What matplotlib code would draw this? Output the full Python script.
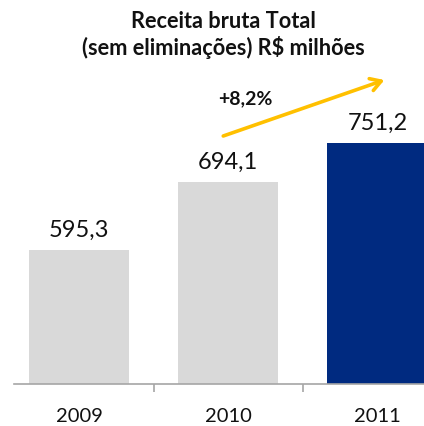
import matplotlib
matplotlib.use("Agg")
import matplotlib.pyplot as plt

years = ["2009", "2010", "2011"]
values = [595.3, 694.1, 751.2]
value_labels = ["595,3", "694,1", "751,2"]
growth_label = "+8,2%"
title = "Receita bruta Total\n(sem eliminações) R$ milhões"

colors = ["#D9D9D9", "#D9D9D9", "#002A80"]

W, H = 424, 426
fig = plt.figure(figsize=(W / 100, H / 100), dpi=100)
plt.rcParams['font.family'] = ['Lato', 'DejaVu Sans']

x0, x1 = 4.5, 452
ybot, ytop = 384, 60
ax = fig.add_axes([x0 / W, (H - ybot) / H, (x1 - x0) / W, (ybot - ytop) / H])
px_per_unit = 0.686
ymin = 400
ymax = ymin + (ybot - ytop) / px_per_unit
ax.set_ylim(ymin, ymax)
ax.set_xlim(-0.5, len(years) - 0.5)

xs = list(range(len(years)))
ax.bar(xs, values, width=100 / 149, color=colors, zorder=2)

for sp in ["top", "left", "right"]:
    ax.spines[sp].set_visible(False)
ax.spines["bottom"].set_color("#A6A6A6")
ax.spines["bottom"].set_linewidth(1.2)
ax.spines["bottom"].set_bounds(-0.5 + (14 - x0) / 149, 2.5)
ax.set_yticks([])
ax.set_xticks([])
ax.set_xticks([0.5, 1.5], minor=True)
ax.tick_params(axis="x", which="minor", length=6, width=1.2, color="#A6A6A6")
ax.tick_params(axis="x", which="major", length=0)

for x, v, lab in zip(xs, values, value_labels):
    ax.annotate(lab, xy=(x, v), xytext=(0, 14.4), textcoords="offset points",
                ha="center", va="center", fontsize=17, color="#111111")

for x, yr in zip(xs, years):
    ax.annotate(yr, xy=(x, ymin), xytext=(0, -23.5), textcoords="offset points",
                ha="center", va="center", fontsize=14.5, color="#111111",
                annotation_clip=False)

def dx(px):
    return (px - x0) / 149 - 0.5

def dy(py):
    return ymin + (ybot - py) / px_per_unit

ax.annotate("", xy=(dx(384), dy(80)), xytext=(dx(223), dy(136)),
            arrowprops=dict(arrowstyle="->,head_length=0.75,head_width=0.45",
                            color="#FFC000", lw=2.6, shrinkA=0, shrinkB=0),
            annotation_clip=False)
ax.text(dx(245), dy(99), growth_label, ha="center", va="center",
        fontsize=14, fontweight="bold", color="#111111")

fig.text(223 / W, 1 - 35 / H, title, ha="center", va="center",
         fontsize=15.7, fontweight="bold", color="#111111", linespacing=1.2)

fig.savefig("out.png", dpi=100)
